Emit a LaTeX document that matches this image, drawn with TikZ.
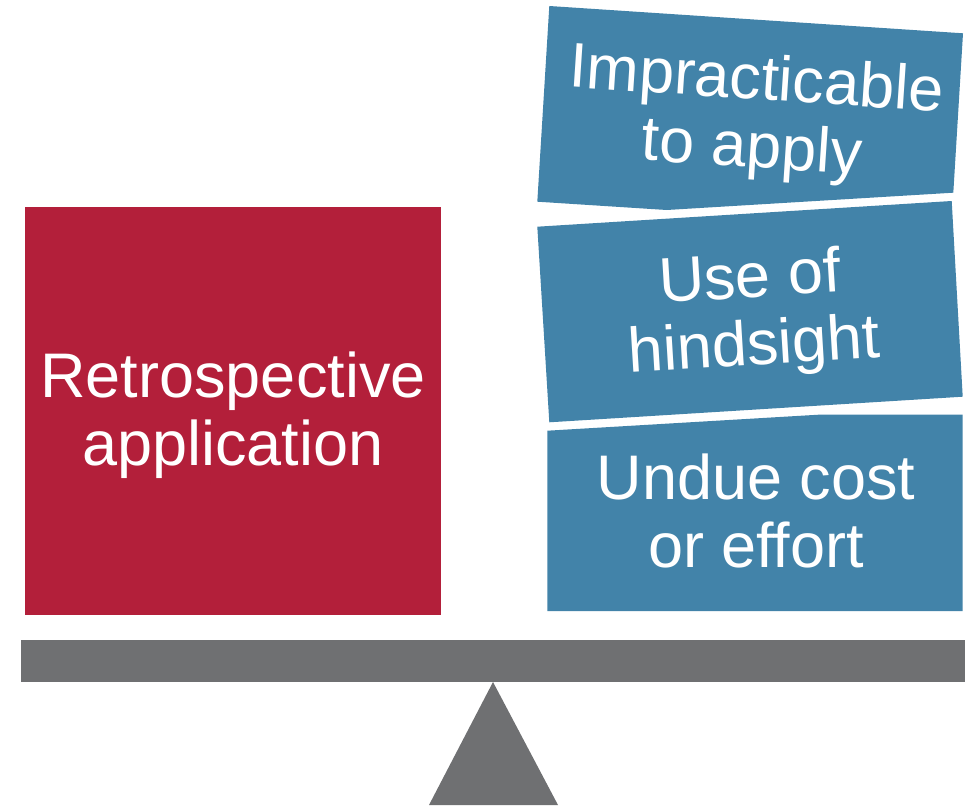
\documentclass[tikz,border=0pt]{standalone}
\usepackage{fontspec}
\setmainfont{Liberation Sans}
\usetikzlibrary{positioning}
\definecolor{retrored}{RGB}{179,31,58}
\definecolor{reasonblue}{RGB}{66,131,169}
\definecolor{beamgray}{RGB}{111,112,114}

\begin{document}
\begin{tikzpicture}[x=1pt, y=-1pt,
		box text/.style = {
			text=white, align=center, inner sep=0pt,
			font=\fontsize{63}{68}\selectfont
		}]
		\useasboundingbox (0,0) rectangle (965,805);
		\fill[retrored] (25,207) rectangle (441,615);
		\fill[reasonblue] (549.3,6) -- (963,33.3) -- (953.3,192.7) -- (666.7,210) -- (537.3,201.7) -- cycle;
		\fill[reasonblue] (537.3,226.7) -- (951.7,201) -- (962.7,396.7) -- (549.3,422.3) -- cycle;
		\fill[reasonblue] (547.3,430.7) -- (822,414.5) -- (962.5,414.5) -- (962.5,611) -- (547.3,611) -- cycle;
		\fill[beamgray] (21,640) rectangle (965,682);
		\fill[beamgray] (493,682) -- (558,805) -- (429,805) -- cycle;
		\node (retro) [box text] at (233,415.5) {Retrospective\\application};
		\node (impract) [box text, rotate=-3.8] at (754,117) {Impracticable\\to apply};
		\node (hindsight) [box text, rotate=3.5] at (752,315) {Use of\\hindsight};
		\node (cost) [box text] at (756,510.5) {Undue cost\\or effort};
	\end{tikzpicture}
\end{document}
